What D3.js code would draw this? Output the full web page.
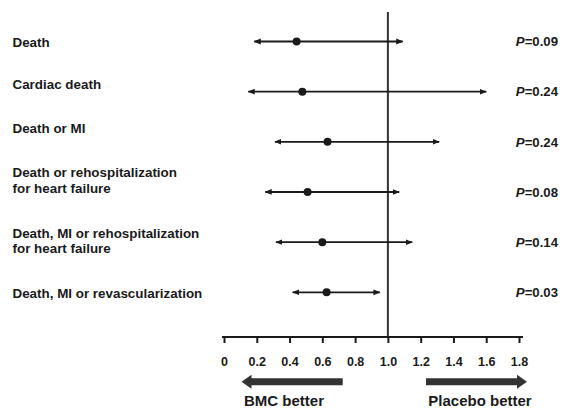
<!DOCTYPE html>
<html><head><meta charset="utf-8">
<script src="https://cdn.jsdelivr.net/npm/d3@7/dist/d3.min.js"></script>
<style>body{margin:0;background:#fff}svg{display:block}text{font-family:Arial,"Liberation Sans",sans-serif;font-weight:bold;fill:#1a1a1a}</style>
</head><body><div id="chart"></div>
<script>
const outcomes = [
  ["Death"],
  ["Cardiac death"],
  ["Death or MI"],
  ["Death or rehospitalization","for heart failure"],
  ["Death, MI or rehospitalization","for heart failure"],
  ["Death, MI or revascularization"]
];
const estimates = [0.443, 0.478, 0.632, 0.51, 0.60, 0.626];
const lowerCI   = [0.185, 0.148, 0.311, 0.252, 0.317, 0.419];
const upperCI   = [1.09, 1.60, 1.313, 1.069, 1.148, 0.951];
const pValues   = ["0.09","0.24","0.24","0.08","0.14","0.03"];
const tickValues = [0,0.2,0.4,0.6,0.8,1.0,1.2,1.4,1.6,1.8];
const tickLabels = ["0","0.2","0.4","0.6","0.8","1.0","1.2","1.4","1.6","1.8"];

const W=580,H=408;
const svg=d3.select("#chart").append("svg").attr("width",W).attr("height",H);
const x=d3.scaleLinear().domain([0,1.8]).range([224,519]);
const y=d3.scalePoint().domain(d3.range(outcomes.length)).range([41.5,292.3]);
const axisY=337;
const ink="#1a1a1a";

const defs=svg.append("defs");
defs.append("marker").attr("id","ah").attr("viewBox","0 0 10 10").attr("refX",9).attr("refY",5)
  .attr("markerWidth",4).attr("markerHeight",4).attr("orient","auto-start-reverse").attr("markerUnits","strokeWidth")
  .append("path").attr("d","M0,1 L10,5 L0,9 Z").attr("fill",ink);

// reference line
svg.append("line").attr("x1",x(1)).attr("x2",x(1)).attr("y1",12).attr("y2",axisY)
  .attr("stroke","#333").attr("stroke-width",2);

// axis
const axis=d3.axisBottom(x).tickValues(tickValues).tickFormat((d,i)=>tickLabels[i]).tickSizeOuter(0).tickSize(6).tickPadding(14);
const ag=svg.append("g").attr("transform",`translate(0,${axisY})`).call(axis);
ag.select(".domain").attr("stroke",ink).attr("stroke-width",2).attr("d",`M${x(0)-2},0H${x(1.8)+4}`);
ag.selectAll(".tick line").attr("stroke",ink).attr("stroke-width",2);
ag.selectAll(".tick text").attr("font-size",12.5).attr("font-family","Arial, 'Liberation Sans', sans-serif").attr("font-weight","bold").attr("fill",ink);

// CI bars
const rows=svg.append("g");
d3.range(outcomes.length).forEach(i=>{
  const cy=y(i);
  const mid=x(estimates[i]);
  rows.append("line").attr("x1",mid).attr("x2",x(lowerCI[i])).attr("y1",cy).attr("y2",cy)
    .attr("stroke",ink).attr("stroke-width",1.8).attr("marker-end","url(#ah)");
  rows.append("line").attr("x1",mid).attr("x2",x(upperCI[i])).attr("y1",cy).attr("y2",cy)
    .attr("stroke",ink).attr("stroke-width",1.8).attr("marker-end","url(#ah)");
  rows.append("circle").attr("cx",mid).attr("cy",cy).attr("r",4).attr("fill",ink);
  // p value
  const t=rows.append("text").attr("x",558).attr("y",cy).attr("dy","0.36em").attr("text-anchor","end").attr("font-size",13.2);
  t.append("tspan").attr("font-style","italic").text("P");
  t.append("tspan").text("="+pValues[i]);
});

// labels
const labelLines=[[41.7],[84.3],[128],[171.7,188],[232.7,248],[293.3]];
outcomes.forEach((lines,i)=>{
  lines.forEach((s,j)=>{
    svg.append("text").attr("x",12.5).attr("y",labelLines[i][j]).attr("dy","0.36em").attr("font-size",13.4).text(s);
  });
});

// direction arrows
function bigArrow(x1,x2,cy){
  const dir=Math.sign(x2-x1), hw=3.5, hh=7, hl=10;
  const xb=x2-dir*hl;
  svg.append("path").attr("fill","#333")
    .attr("d",`M${x1},${cy-hw}L${xb},${cy-hw}L${xb},${cy-hh}L${x2},${cy}L${xb},${cy+hh}L${xb},${cy+hw}L${x1},${cy+hw}Z`);
}
bigArrow(342.7,241.5,381.7);
bigArrow(426,527,381.7);
svg.append("text").attr("x",284).attr("y",401).attr("dy","0.36em").attr("text-anchor","middle").attr("font-size",15).text("BMC better");
svg.append("text").attr("x",480).attr("y",401).attr("dy","0.36em").attr("text-anchor","middle").attr("font-size",15).text("Placebo better");
</script></body></html>
